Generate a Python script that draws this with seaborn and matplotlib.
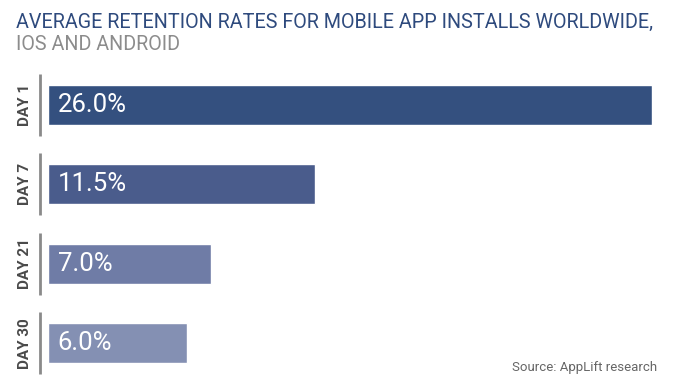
import matplotlib
matplotlib.use("Agg")
import matplotlib.pyplot as plt
import matplotlib.transforms as mtransforms
import pandas as pd
import seaborn as sns

# Chart data
days = ["DAY 1", "DAY 7", "DAY 21", "DAY 30"]
retention = [26.0, 11.5, 7.0, 6.0]
bar_colors = ["#34507f", "#4a5c8c", "#6f7ca6", "#8490b3"]

TITLE = "AVERAGE RETENTION RATES FOR MOBILE APP INSTALLS WORLDWIDE,"
SUBTITLE = "IOS AND ANDROID"
SOURCE = "Source: AppLift research"


def main():
    sns.set_style("white")
    plt.rcParams["font.family"] = ["Roboto", "DejaVu Sans"]

    df = pd.DataFrame({"day": days, "retention": retention})

    fig = plt.figure(figsize=(6.81, 3.87), dpi=100)
    ax = fig.add_axes([48 / 681, 1 - 383 / 387, 604 / 681, 318 / 387])

    sns.barplot(data=df, x="retention", y="day", hue="day", palette=bar_colors,
                orient="h", width=0.5, legend=False, ax=ax, saturation=1)

    ax.set_xlim(0, max(retention))
    ax.set_ylim(len(days) - 0.5, -0.5)
    ax.set_xlabel("")
    ax.set_ylabel("")
    ax.set_xticks([])
    ax.set_yticks([])
    sns.despine(ax=ax, left=True, bottom=True)

    # value labels inside the bars
    for i, v in enumerate(retention):
        ax.annotate(f"{v:.1f}%", (0, i), xytext=(7, 0), textcoords="offset points",
                    ha="left", va="center", color="white", fontsize=18.5)

    # rotated category labels + separator lines
    trans = mtransforms.blended_transform_factory(ax.transAxes, ax.transData)
    for i, d in enumerate(days):
        ax.text(-23 / 604, i, d, transform=trans, rotation=90, ha="center", va="center",
                fontsize=11, fontweight="bold", color="#4a4a4a")
        ax.plot([-8.5 / 604, -8.5 / 604], [i - 0.39, i + 0.39], transform=trans,
                color="#8a8a8a", lw=2, clip_on=False, solid_capstyle="butt")

    fig.text(16 / 681, 1 - 22 / 387, TITLE, ha="left", va="center",
             fontsize=14.2, color="#2e4a7d")
    fig.text(16 / 681, 1 - 44 / 387, SUBTITLE, ha="left", va="center",
             fontsize=14.2, color="#8c8c8c")
    fig.text(657 / 681, 1 - 367 / 387, SOURCE, ha="right", va="center",
             fontsize=9.5, color="#666666")

    fig.savefig("out.png", dpi=100)
    plt.close(fig)


if __name__ == "__main__":
    main()
